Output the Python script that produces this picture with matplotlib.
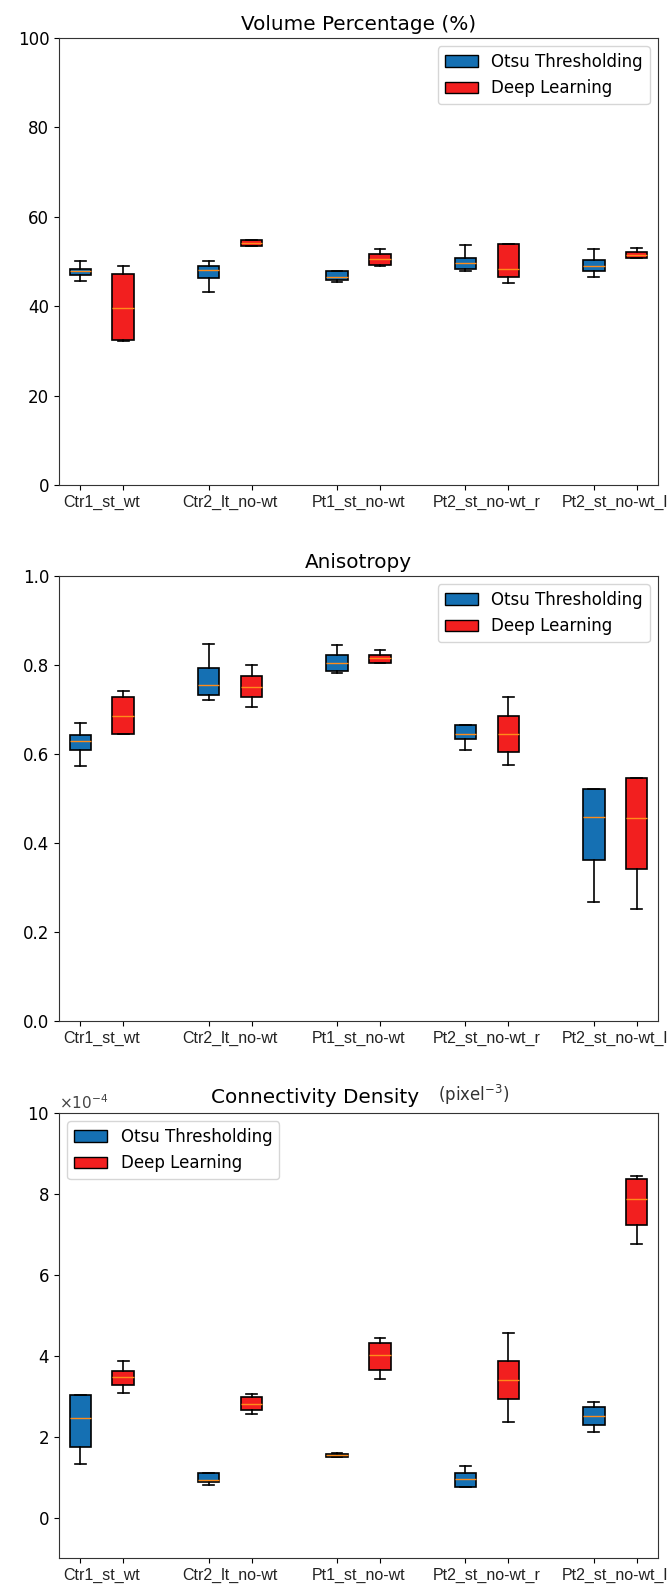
import matplotlib
matplotlib.use("Agg")
import matplotlib.pyplot as plt
from matplotlib import font_manager
from matplotlib.patches import Patch
from matplotlib.ticker import ScalarFormatter

# ---------------- data ----------------
categories = ["Ctr1_st_wt", "Ctr2_lt_no-wt", "Pt1_st_no-wt", "Pt2_st_no-wt_r", "Pt2_st_no-wt_l"]
series_names = ["Otsu Thresholding", "Deep Learning"]

# Volume Percentage (%)
vol_otsu_lo = [45.7, 43.1, 45.5, 47.9, 46.5]
vol_otsu_q1 = [46.9, 46.4, 45.8, 48.4, 47.8]
vol_otsu_med = [47.8, 48.0, 46.6, 49.6, 48.9]
vol_otsu_q3 = [48.4, 49.0, 47.8, 50.7, 50.4]
vol_otsu_hi = [50.2, 50.2, 47.8, 53.6, 52.8]
vol_dl_lo = [32.3, 53.4, 48.9, 45.3, 50.7]
vol_dl_q1 = [32.5, 53.4, 49.3, 46.6, 50.7]
vol_dl_med = [39.7, 54.1, 50.5, 48.4, 51.5]
vol_dl_q3 = [47.1, 54.9, 51.6, 53.9, 52.2]
vol_dl_hi = [48.9, 54.9, 52.8, 53.9, 53.1]

# Anisotropy
ani_otsu_lo = [0.573, 0.721, 0.781, 0.609, 0.267]
ani_otsu_q1 = [0.610, 0.733, 0.787, 0.634, 0.362]
ani_otsu_med = [0.630, 0.756, 0.804, 0.646, 0.458]
ani_otsu_q3 = [0.643, 0.794, 0.822, 0.665, 0.522]
ani_otsu_hi = [0.670, 0.847, 0.846, 0.665, 0.522]
ani_dl_lo = [0.644, 0.706, 0.805, 0.575, 0.251]
ani_dl_q1 = [0.646, 0.727, 0.805, 0.604, 0.341]
ani_dl_med = [0.686, 0.751, 0.815, 0.645, 0.457]
ani_dl_q3 = [0.729, 0.775, 0.822, 0.685, 0.545]
ani_dl_hi = [0.741, 0.801, 0.834, 0.727, 0.545]

# Connectivity Density (units of 1e-4 pixel^-3)
con_otsu_lo = [1.33, 0.81, 1.50, 0.76, 2.11]
con_otsu_q1 = [1.75, 0.87, 1.50, 0.76, 2.29]
con_otsu_med = [2.46, 0.92, 1.54, 0.96, 2.52]
con_otsu_q3 = [3.04, 1.11, 1.57, 1.11, 2.74]
con_otsu_hi = [3.04, 1.11, 1.60, 1.27, 2.86]
con_dl_lo = [3.07, 2.57, 3.43, 2.37, 6.76]
con_dl_q1 = [3.28, 2.65, 3.65, 2.94, 7.24]
con_dl_med = [3.48, 2.81, 4.01, 3.40, 7.87]
con_dl_q3 = [3.63, 2.97, 4.32, 3.87, 8.37]
con_dl_hi = [3.88, 3.05, 4.44, 4.55, 8.44]
con_scale = 1e-4

# ---------------- style ----------------
plt.rcParams["font.family"] = ["DejaVu Sans"]
plt.rcParams["font.size"] = 12
BLUE = "#1570b3"
RED = "#f21f1f"
MEDIAN = "#ff8c1a"

avail = {f.name for f in font_manager.fontManager.ttflist}
if "Liberation Sans Narrow" in avail:
    xlab_family, xlab_size = "Liberation Sans Narrow", 13.7
else:
    xlab_family, xlab_size = "Liberation Sans", 11.5

fig = plt.figure(figsize=(6.67, 15.93), dpi=100)
H = 1593.0
W = 667.0
left = 59 / W
width = 599 / W


def make_stats(lo, q1, med, q3, hi, scale=1.0):
    return [dict(whislo=a * scale, q1=b * scale, med=c * scale, q3=d * scale,
                 whishi=e * scale, fliers=[])
            for a, b, c, d, e in zip(lo, q1, med, q3, hi)]


n = len(categories)
pos_otsu = [3 * i + 1 for i in range(n)]
pos_dl = [3 * i + 2 for i in range(n)]
centers = [3 * i + 1.5 for i in range(n)]


def draw_panel(ax, otsu_stats, dl_stats, title, legend_loc):
    for stats, pos, col in ((otsu_stats, pos_otsu, BLUE), (dl_stats, pos_dl, RED)):
        ax.bxp(stats, positions=pos, widths=0.5, patch_artist=True,
               showfliers=False, manage_ticks=False,
               boxprops=dict(facecolor=col, edgecolor="black", linewidth=1.2),
               medianprops=dict(color=MEDIAN, linewidth=1.0),
               whiskerprops=dict(color="black", linewidth=1.2),
               capprops=dict(color="black", linewidth=1.2))
    ax.set_xlim(0.5, 3 * n - 0.5)
    ax.set_xticks(pos_otsu + pos_dl)
    ax.set_xticklabels([])
    ax.set_xticks(centers, minor=True)
    ax.set_xticklabels(categories, minor=True, family=xlab_family,
                       fontsize=xlab_size, color="#222222")
    ax.tick_params(axis="x", which="minor", length=0, pad=7)
    ax.tick_params(axis="both", which="major", labelsize=12)
    for s in ax.spines.values():
        s.set_color("#333333")
    if title:
        ax.set_title(title, fontsize=14.4)
    handles = [Patch(facecolor=BLUE, edgecolor="black", label=series_names[0]),
               Patch(facecolor=RED, edgecolor="black", label=series_names[1])]
    ax.legend(handles=handles, loc=legend_loc, fontsize=12)


# Top: Volume Percentage
ax1 = fig.add_axes([left, 1 - 485 / H, width, 447 / H])
draw_panel(ax1,
           make_stats(vol_otsu_lo, vol_otsu_q1, vol_otsu_med, vol_otsu_q3, vol_otsu_hi),
           make_stats(vol_dl_lo, vol_dl_q1, vol_dl_med, vol_dl_q3, vol_dl_hi),
           "Volume Percentage (%)", "upper right")
ax1.set_ylim(0, 100)
ax1.set_yticks([0, 20, 40, 60, 80, 100])

# Middle: Anisotropy
ax2 = fig.add_axes([left, 1 - 1021 / H, width, 445 / H])
draw_panel(ax2,
           make_stats(ani_otsu_lo, ani_otsu_q1, ani_otsu_med, ani_otsu_q3, ani_otsu_hi),
           make_stats(ani_dl_lo, ani_dl_q1, ani_dl_med, ani_dl_q3, ani_dl_hi),
           "Anisotropy", "upper right")
ax2.set_ylim(0, 1.0)
ax2.set_yticks([0.0, 0.2, 0.4, 0.6, 0.8, 1.0])

# Bottom: Connectivity Density
ax3 = fig.add_axes([left, 1 - 1558 / H, width, 445 / H])
draw_panel(ax3,
           make_stats(con_otsu_lo, con_otsu_q1, con_otsu_med, con_otsu_q3, con_otsu_hi, con_scale),
           make_stats(con_dl_lo, con_dl_q1, con_dl_med, con_dl_q3, con_dl_hi, con_scale),
           None, "upper left")
ax3.set_ylim(-1 * con_scale, 10 * con_scale)
ax3.set_yticks([v * con_scale for v in (0, 2, 4, 6, 8, 10)])
fmt = ScalarFormatter(useMathText=True)
fmt.set_powerlimits((-4, -4))
ax3.yaxis.set_major_formatter(fmt)
ax3.yaxis.get_offset_text().set_fontsize(11)
ax3.yaxis.get_offset_text().set_color("#444444")
ax3.text(0.601, 1.0225, "Connectivity Density", transform=ax3.transAxes,
         ha="right", va="baseline", fontsize=14.4)
ax3.text(0.633, 1.027, "(pixel$^{-3}$)", transform=ax3.transAxes,
         ha="left", va="baseline", fontsize=12, color="#333333")

fig.savefig("out.png", dpi=100)
